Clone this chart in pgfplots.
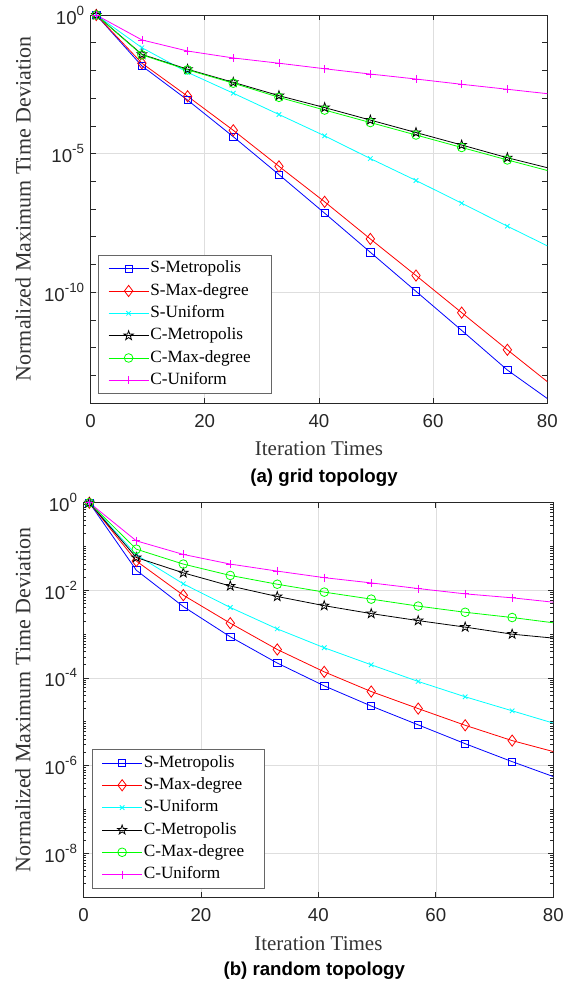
\documentclass[border=0pt]{standalone}
\usepackage{fontspec}
\setmainfont{Liberation Serif}
\newfontfamily\arial{Liberation Sans}
\usepackage{pgfplots}
\pgfplotsset{compat=1.18}
\usetikzlibrary{plotmarks}
\definecolor{mblue}{rgb}{0,0,1}
\definecolor{mred}{rgb}{1,0,0}
\definecolor{mcyan}{rgb}{0,1,1}
\definecolor{mblack}{rgb}{0,0,0}
\definecolor{mgreen}{rgb}{0,1,0}
\definecolor{mmag}{rgb}{1,0,1}
\newcommand{\tenpow}[1]{10\raisebox{0.48em}{\fontsize{10}{10}\selectfont #1}}
\pgfdeclareplotmark{pentagram}{%
  \pgfpathmoveto{\pgfpointpolar{90}{1.15\pgfplotmarksize}}%
  \pgfpathlineto{\pgfpointpolar{126}{0.45\pgfplotmarksize}}%
  \pgfpathlineto{\pgfpointpolar{162}{1.15\pgfplotmarksize}}%
  \pgfpathlineto{\pgfpointpolar{198}{0.45\pgfplotmarksize}}%
  \pgfpathlineto{\pgfpointpolar{234}{1.15\pgfplotmarksize}}%
  \pgfpathlineto{\pgfpointpolar{270}{0.45\pgfplotmarksize}}%
  \pgfpathlineto{\pgfpointpolar{306}{1.15\pgfplotmarksize}}%
  \pgfpathlineto{\pgfpointpolar{342}{0.45\pgfplotmarksize}}%
  \pgfpathlineto{\pgfpointpolar{18}{1.15\pgfplotmarksize}}%
  \pgfpathlineto{\pgfpointpolar{54}{0.45\pgfplotmarksize}}%
  \pgfpathclose\pgfusepathqstroke}
\pgfplotsset{
  scale only axis,
  xmin=0, xmax=80,
  xtick={0,20,40,60,80},
  xticklabels={0,20,40,60,80},
  tick label style={font=\arial\fontsize{14}{14}\selectfont, text=black!85},
  xticklabel style={yshift=-5pt},
  yticklabel style={xshift=-1.3pt},
  grid=major,
  major grid style={color=black!13, line width=0.45pt},
  axis line style={black!85, line width=0.75pt},
  major tick style={black!85, line width=0.6pt},
  minor tick style={black!85, line width=0.5pt},
  tick align=inside,
  major tick length=4pt,
  legend cell align=left,
  legend image code/.code={%
    \path (0pt,0pt);
    \draw[#1, mark indices={2}] plot coordinates {(5.5pt,0pt) (20.5pt,0pt) (35.5pt,0pt)};},
  every axis plot/.append style={line width=0.6pt, mark options={solid, line width=0.6pt}},
  smet/.style={mblue, mark=square, mark size=2.75pt},
  smax/.style={mred, mark=diamond, mark size=4.2pt},
  suni/.style={mcyan, mark=x, mark size=2.4pt},
  cmet/.style={mblack, mark=pentagram, mark size=3.2pt},
  cmax/.style={mgreen, mark=o, mark size=3.25pt},
  cuni/.style={mmag, mark=+, mark size=3pt},
}
\begin{document}
\begin{tikzpicture}
\useasboundingbox (0pt,0pt) rectangle (426pt,-738pt);
% ---------------- (a) grid topology ----------------
\begin{axis}[
  ymode=log,
  at={(67.9pt,-302.25pt)}, anchor=south west,
  width=342.6pt, height=291pt,
  ymin=1e-14, ymax=1,
  ytick={1,1e-5,1e-10},
  yticklabels={\tenpow{0},\tenpow{-5},\tenpow{-10}},
  minor ytick={1e-1,1e-2,1e-3,1e-4,1e-6,1e-7,1e-8,1e-9,1e-11,1e-12,1e-13},
  minor tick length=4pt,
  xlabel={Iteration Times},
  ylabel={Normalized Maximum Time Deviation},
  xlabel style={font=\fontsize{15.75}{16}\selectfont, text=black!80, anchor=center, at={(axis description cs:0.5,-0.1178)}},
  ylabel style={font=\fontsize{16.5}{17}\selectfont, text=black!80, anchor=center, at={(axis description cs:-0.1477,0.5)}},
  legend style={at={(axis description cs:0.0171,0.0232)}, anchor=south west,
      draw=black!60, line width=0.6pt, fill=white, inner sep=1.6pt, row sep=0pt,
      font=\fontsize{12.9}{15}\selectfont,
      nodes={inner xsep=1pt, inner ysep=1pt, text height=10.5pt, text depth=4.25pt}},
]
\addplot[smet, mark indices={1,2,3,4,5,6,7,8,9,10}] coordinates {(1,1) (9,1.45e-2) (17,8.51e-4) (25,4.07e-5) (33,1.74e-6) (41,7.08e-8) (49,2.75e-9) (57,1.07e-10) (65,4.17e-12) (73,1.55e-13) (80,1.45e-14)};
\addlegendentry{\makebox[88pt][l]{S-Metropolis}}
\addplot[smax, mark indices={1,2,3,4,5,6,7,8,9,10}] coordinates {(1,1) (9,1.82e-2) (17,1.17e-3) (25,6.92e-5) (33,3.47e-6) (41,1.82e-7) (49,8.32e-9) (57,3.98e-10) (65,1.82e-11) (73,8.32e-13) (80,5.89e-14)};
\addlegendentry{S-Max-degree}
\addplot[suni, mark indices={1,2,3,4,5,6,7,8,9,10}] coordinates {(1,1) (9,6.61e-2) (17,8.51e-3) (25,1.51e-3) (33,2.57e-4) (41,4.37e-5) (49,6.61e-6) (57,1.07e-6) (65,1.62e-7) (73,2.40e-8) (80,4.68e-9)};
\addlegendentry{S-Uniform}
\addplot[cmet, mark indices={1,2,3,4,5,6,7,8,9,10}] coordinates {(1,1) (9,3.80e-2) (17,1.10e-2) (25,3.72e-3) (33,1.23e-3) (41,4.57e-4) (49,1.62e-4) (57,5.75e-5) (65,2.04e-5) (73,7.08e-6) (80,3.09e-6)};
\addlegendentry{C-Metropolis}
\addplot[cmax, mark indices={1,2,3,4,5,6,7,8,9,10}] coordinates {(1,1) (9,3.63e-2) (17,1.05e-2) (25,3.47e-3) (33,1.07e-3) (41,3.72e-4) (49,1.32e-4) (57,4.68e-5) (65,1.66e-5) (73,5.89e-6) (80,2.45e-6)};
\addlegendentry{C-Max-degree}
\addplot[cuni, mark indices={1,2,3,4,5,6,7,8,9,10}] coordinates {(1,1) (9,0.126) (17,5.01e-2) (25,2.82e-2) (33,1.82e-2) (41,1.15e-2) (49,7.41e-3) (57,4.90e-3) (65,3.16e-3) (73,2.09e-3) (80,1.45e-3)};
\addlegendentry{C-Uniform}
\end{axis}
\node[font=\arial\bfseries\fontsize{14}{16}\selectfont] at (243pt,-358pt) {(a) grid topology};
% ---------------- (b) random topology ----------------
\begin{axis}[
  ymode=log,
  at={(62.6pt,-672.75pt)}, anchor=south west,
  width=352.35pt, height=295.7pt,
  ymin=1e-9, ymax=1,
  ytick={1,1e-2,1e-4,1e-6,1e-8},
  yticklabels={\tenpow{0},\tenpow{-2},\tenpow{-4},\tenpow{-6},\tenpow{-8}},
  minor ytick={2e-9,3e-9,4e-9,5e-9,6e-9,7e-9,8e-9,9e-9,
               1e-8,2e-8,3e-8,4e-8,5e-8,6e-8,7e-8,8e-8,9e-8,
               1e-7,2e-7,3e-7,4e-7,5e-7,6e-7,7e-7,8e-7,9e-7,
               2e-6,3e-6,4e-6,5e-6,6e-6,7e-6,8e-6,9e-6,
               1e-5,2e-5,3e-5,4e-5,5e-5,6e-5,7e-5,8e-5,9e-5,
               2e-4,3e-4,4e-4,5e-4,6e-4,7e-4,8e-4,9e-4,
               1e-3,2e-3,3e-3,4e-3,5e-3,6e-3,7e-3,8e-3,9e-3,
               2e-2,3e-2,4e-2,5e-2,6e-2,7e-2,8e-2,9e-2,
               1e-1,2e-1,3e-1,4e-1,5e-1,6e-1,7e-1,8e-1,9e-1},
  minor tick length=2.2pt,
  xlabel={Iteration Times},
  ylabel={Normalized Maximum Time Deviation},
  xlabel style={font=\fontsize{15.75}{16}\selectfont, text=black!80, anchor=center, at={(axis description cs:0.5,-0.1192)}},
  ylabel style={font=\fontsize{16.5}{17}\selectfont, text=black!80, anchor=center, at={(axis description cs:-0.1288,0.5)}},
  legend style={at={(axis description cs:0.0179,0.0221)}, anchor=south west,
      draw=black!60, line width=0.6pt, fill=white, inner sep=1.6pt, row sep=0pt,
      font=\fontsize{12.9}{15}\selectfont,
      nodes={inner xsep=1pt, inner ysep=1pt, text height=10.5pt, text depth=4.25pt}},
]
\addplot[smet, mark indices={1,2,3,4,5,6,7,8,9,10}] coordinates {(1,1) (9,2.88e-2) (17,4.27e-3) (25,8.71e-4) (33,2.19e-4) (41,6.61e-5) (49,2.29e-5) (57,8.51e-6) (65,3.16e-6) (73,1.23e-6) (80,5.62e-7)};
\addlegendentry{\makebox[88pt][l]{S-Metropolis}}
\addplot[smax, mark indices={1,2,3,4,5,6,7,8,9,10}] coordinates {(1,1) (9,4.68e-2) (17,7.76e-3) (25,1.78e-3) (33,4.47e-4) (41,1.38e-4) (49,4.90e-5) (57,2.00e-5) (65,8.32e-6) (73,3.72e-6) (80,2.09e-6)};
\addlegendentry{S-Max-degree}
\addplot[suni, mark indices={1,2,3,4,5,6,7,8,9,10}] coordinates {(1,1) (9,6.46e-2) (17,1.41e-2) (25,4.07e-3) (33,1.32e-3) (41,4.90e-4) (49,2.00e-4) (57,8.32e-5) (65,3.72e-5) (73,1.78e-5) (80,9.33e-6)};
\addlegendentry{S-Uniform}
\addplot[cmet, mark indices={1,2,3,4,5,6,7,8,9,10}] coordinates {(1,1) (9,5.62e-2) (17,2.51e-2) (25,1.26e-2) (33,7.24e-3) (41,4.47e-3) (49,2.95e-3) (57,2.04e-3) (65,1.45e-3) (73,1.00e-3) (80,8.13e-4)};
\addlegendentry{C-Metropolis}
\addplot[cmax, mark indices={1,2,3,4,5,6,7,8,9,10}] coordinates {(1,1) (9,8.71e-2) (17,3.98e-2) (25,2.19e-2) (33,1.38e-2) (41,9.12e-3) (49,6.31e-3) (57,4.37e-3) (65,3.16e-3) (73,2.40e-3) (80,1.82e-3)};
\addlegendentry{C-Max-degree}
\addplot[cuni, mark indices={1,2,3,4,5,6,7,8,9,10}] coordinates {(1,1) (9,0.135) (17,6.61e-2) (25,3.98e-2) (33,2.75e-2) (41,1.95e-2) (49,1.48e-2) (57,1.10e-2) (65,8.32e-3) (73,6.76e-3) (80,5.37e-3)};
\addlegendentry{C-Uniform}
\end{axis}
\node[font=\arial\bfseries\fontsize{14}{16}\selectfont] at (235.7pt,-728pt) {(b) random topology};
\end{tikzpicture}
\end{document}
